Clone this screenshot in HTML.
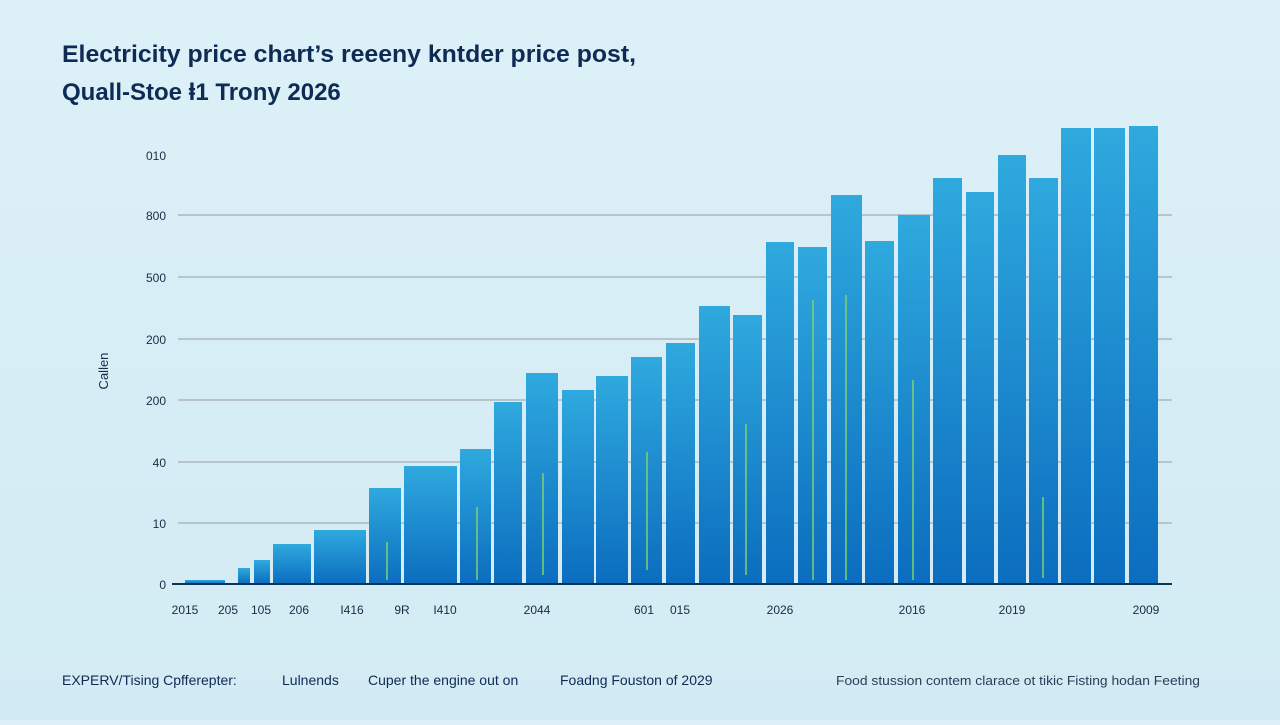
<!DOCTYPE html>
<html><head><meta charset="utf-8"><style>
body{margin:0;width:1280px;height:720px;overflow:hidden;background:linear-gradient(180deg,#dcf0f7,#d3ebf4);font-family:"Liberation Sans",sans-serif;}
</style></head><body>
<svg width="1280" height="720" xmlns="http://www.w3.org/2000/svg">
<defs><linearGradient id="g" x1="0" y1="0" x2="0" y2="1"><stop offset="0" stop-color="#2fa9de"/><stop offset="1" stop-color="#0b6dbf"/></linearGradient></defs>
<text x="62" y="62" font-size="24" font-weight="bold" fill="#0e2b55" textLength="574" lengthAdjust="spacingAndGlyphs">Electricity price chart’s reeeny kntder price post,</text>
<text x="62" y="100" font-size="24" font-weight="bold" fill="#0e2b55">Quall-Stoe ⱡ1 Trony 2026</text>
<g stroke="#b9c4c8" stroke-width="2">
<line x1="178" y1="215" x2="1172" y2="215"/><line x1="178" y1="277" x2="1172" y2="277"/><line x1="178" y1="339" x2="1172" y2="339"/><line x1="178" y1="400" x2="1172" y2="400"/><line x1="178" y1="462" x2="1172" y2="462"/><line x1="178" y1="523" x2="1172" y2="523"/>
</g>
<g font-size="12" fill="#1a2b45" text-anchor="end">
<text x="166" y="160">010</text><text x="166" y="220">800</text><text x="166" y="282">500</text><text x="166" y="344">200</text><text x="166" y="405">200</text><text x="166" y="467">40</text><text x="166" y="528">10</text><text x="166" y="589">0</text>
</g>
<text x="108" y="371" font-size="13" fill="#1a2b45" transform="rotate(-90 108 371)" text-anchor="middle">Callen</text>
<g fill="url(#g)">
<rect x="185" y="580" width="40" height="4"/><rect x="238" y="568" width="12" height="16"/><rect x="254" y="560" width="16" height="24"/><rect x="273" y="544" width="38" height="40"/><rect x="314" y="530" width="52" height="54"/><rect x="369" y="488" width="32" height="96"/><rect x="404" y="466" width="53" height="118"/><rect x="460" y="449" width="31" height="135"/><rect x="494" y="402" width="28" height="182"/><rect x="526" y="373" width="32" height="211"/><rect x="562" y="390" width="32" height="194"/><rect x="596" y="376" width="32" height="208"/><rect x="631" y="357" width="31" height="227"/><rect x="666" y="343" width="29" height="241"/><rect x="699" y="306" width="31" height="278"/><rect x="733" y="315" width="29" height="269"/><rect x="766" y="242" width="28" height="342"/><rect x="798" y="247" width="29" height="337"/><rect x="831" y="195" width="31" height="389"/><rect x="865" y="241" width="29" height="343"/><rect x="898" y="215" width="32" height="369"/><rect x="933" y="178" width="29" height="406"/><rect x="966" y="192" width="28" height="392"/><rect x="998" y="155" width="28" height="429"/><rect x="1029" y="178" width="29" height="406"/><rect x="1061" y="128" width="30" height="456"/><rect x="1094" y="128" width="31" height="456"/><rect x="1129" y="126" width="29" height="458"/>
</g>
<g stroke="#7ed36a" stroke-width="1.5">
<line x1="387" y1="542" x2="387" y2="580"/><line x1="477" y1="507" x2="477" y2="580"/><line x1="543" y1="473" x2="543" y2="575"/><line x1="647" y1="452" x2="647" y2="570"/><line x1="746" y1="424" x2="746" y2="575"/><line x1="813" y1="300" x2="813" y2="580"/><line x1="846" y1="295" x2="846" y2="580"/><line x1="913" y1="380" x2="913" y2="580"/><line x1="1043" y1="497" x2="1043" y2="578"/>
</g>
<line x1="172" y1="584" x2="1172" y2="584" stroke="#0e3158" stroke-width="2"/>
<g font-size="12" fill="#1a2b45" text-anchor="middle">
<text x="185" y="614">2015</text><text x="228" y="614">205</text><text x="261" y="614">105</text><text x="299" y="614">206</text><text x="352" y="614">I416</text><text x="402" y="614">9R</text><text x="445" y="614">I410</text><text x="537" y="614">2044</text><text x="644" y="614">601</text><text x="680" y="614">015</text><text x="780" y="614">2026</text><text x="912" y="614">2016</text><text x="1012" y="614">2019</text><text x="1146" y="614">2009</text>
</g>
<g font-size="14" fill="#0e2b55">
<text x="62" y="685">EXPERV/Tising Cpfferepter:</text><text x="282" y="685">Lulnends</text><text x="368" y="685">Cuper the engine out on</text><text x="560" y="685">Foadng Fouston of 2029</text>
</g>
<text x="836" y="685" font-size="13" fill="#2a3e58" textLength="364" lengthAdjust="spacingAndGlyphs">Food stussion contem clarace ot tikic Fisting hodan Feeting</text>
</svg>
</body></html>
